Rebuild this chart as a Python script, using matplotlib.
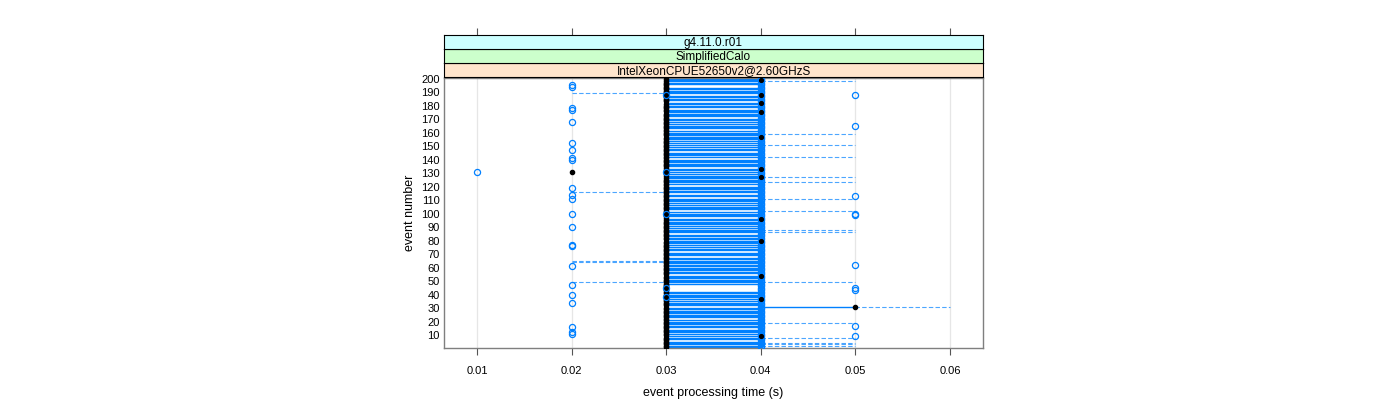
import matplotlib
matplotlib.use('Agg')
import matplotlib.pyplot as plt

plt.rcParams['font.family'] = ['Liberation Sans', 'DejaVu Sans']

# event numbers 1..200
events = list(range(1, 201))

# events without the solid 0.03-0.04 line (white gaps in the band)
no_line = [195, 194, 188, 183, 178, 171, 167, 162, 153, 150, 146, 141, 134, 130,
           121, 115, 112, 107, 102, 97, 90, 85, 76, 72, 68, 55, 47, 46, 45, 44,
           43, 36, 31, 22, 15, 10, 6]

# black (filled) points that are not at 0.03
black_040 = [199, 188, 182, 175, 157, 133, 127, 96, 80, 54, 37, 9]
black_020 = [131]
black_050 = [31]

# open circles away from the main band
circles_010 = [131]
circles_020 = [195, 194, 178, 177, 168, 152, 147, 141, 140, 119, 114, 111, 100,
               90, 77, 76, 61, 47, 40, 34, 16, 12, 11]
circles_030 = [188, 131, 100, 45, 38]
circles_050 = [188, 165, 113, 100, 99, 62, 45, 43, 17, 9]

# dashed connections
dashed_low = [189, 116, 65, 64, 49]          # 0.02 -> 0.03
dashed_high = [198, 159, 151, 142, 127, 123, 111, 102, 88, 86, 49, 19, 8, 4, 3, 2]  # 0.04 -> 0.05
special_solid = [(31, 0.04, 0.05)]
special_dashed = [(31, 0.05, 0.06)]

strip_labels = ['IntelXeonCPUE52650v2@2.60GHzS', 'SimplifiedCalo', 'g4.11.0.r01']
strip_colors = ['#ffe5cc', '#ccffcc', '#ccffff']

blue = '#0080ff'

fig = plt.figure(figsize=(14, 4), dpi=100)
ax = fig.add_axes([444 / 1400, 1 - 348 / 400, 539 / 1400, 270 / 400])

ax.grid(axis='x', color='#e6e6e6', lw=0.9, zorder=0)

# solid band lines
line_ev = [e for e in events if e not in no_line]
ax.hlines(line_ev, 0.03, 0.04, color=blue, lw=1.0, zorder=2)
for e, a, b in special_solid:
    ax.hlines(e, a, b, color=blue, lw=1.0, zorder=2)

# dashed lines
dash = dict(color=blue, lw=0.8, linestyles=(0, (4, 2)), alpha=0.7, zorder=2)
ax.hlines(dashed_low, 0.02, 0.03, **dash)
ax.hlines(dashed_high, 0.04, 0.05, **dash)
for e, a, b in special_dashed:
    ax.hlines(e, a, b, **dash)

# black points at 0.03 (under the circles)
not_030 = set(black_040) | set(black_020) | set(black_050)
black_030 = [e for e in events if e not in not_030]
dot = dict(marker='o', ls='none', color='black', ms=3.0, zorder=3)
ax.plot([0.03] * len(black_030), black_030, **dot)

# open circles
circ = dict(marker='o', ls='none', mfc='none', mec=blue, ms=4.4, mew=0.9, zorder=4)
ax.plot([0.04] * len(events), events, **circ)
ax.plot([0.01] * len(circles_010), circles_010, **circ)
ax.plot([0.02] * len(circles_020), circles_020, **circ)
ax.plot([0.05] * len(circles_050), circles_050, **circ)
ax.plot([0.03] * len(circles_030), circles_030, **circ)

# other black points on top
dot_top = dict(dot, ms=2.7, zorder=5)
ax.plot([0.04] * len(black_040), black_040, **dot_top)
ax.plot([0.02] * len(black_020), black_020, **dict(dot, zorder=5))
ax.plot([0.05] * len(black_050), black_050, **dict(dot, zorder=5))

xticks = [0.01, 0.02, 0.03, 0.04, 0.05, 0.06]
ax.set_xlim(0.00651, 0.0635)
ax.set_ylim(0.4, 200.4)
ax.set_xticks(xticks)
ax.set_xticklabels(['0.01', '0.02', '0.03', '0.04', '0.05', '0.06'])
ax.set_yticks(range(10, 201, 10))
ax.tick_params(axis='x', length=5, width=0.8, color='#555555', labelsize=8, pad=8)
ax.tick_params(axis='y', length=0, labelsize=8, pad=3)
for s in ax.spines.values():
    s.set_color('#7f7f7f')
    s.set_linewidth(1.0)
ax.set_xlabel('event processing time (s)', fontsize=9, labelpad=8)
ax.set_ylabel('event number', fontsize=9, labelpad=4)

# strips
for i, (lab, col) in enumerate(zip(strip_labels, strip_colors)):
    top_px = 77 - 14 * i
    sax = fig.add_axes([444 / 1400, 1 - top_px / 400, 539 / 1400, 14 / 400])
    sax.set_facecolor(col)
    sax.set_xlim(ax.get_xlim())
    sax.set_yticks([])
    if i == 2:
        sax.set_xticks(xticks)
        sax.xaxis.tick_top()
        sax.tick_params(axis='x', length=5, width=0.8, color='#555555', labelsize=0, labeltop=False)
    else:
        sax.set_xticks([])
    for s in sax.spines.values():
        s.set_color('black')
        s.set_linewidth(0.8)
    sax.text(0.5, 0.45, lab, transform=sax.transAxes, ha='center', va='center', fontsize=8.5)

fig.savefig('out.png', dpi=100)
